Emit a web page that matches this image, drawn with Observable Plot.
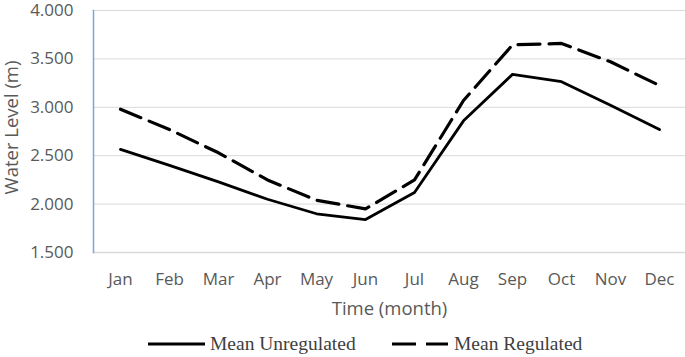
<!DOCTYPE html>
<html><head><meta charset="utf-8">
<script src="https://cdn.jsdelivr.net/npm/d3@7"></script>
<script src="https://cdn.jsdelivr.net/npm/@observablehq/plot@0.6"></script>
<style>
body{margin:0;background:#fff;width:685px;height:357px;overflow:hidden}
#legend{position:relative;height:35px;font-family:"Liberation Serif","Times New Roman",serif;font-size:19.5px;color:#404040}
.item{position:absolute;top:12px;height:20px;display:flex;align-items:center;white-space:nowrap}
</style></head><body>
<div id="chart"></div>
<div id="legend">
  <div class="item" style="left:148px"><svg width="62" height="20"><line x1="0" x2="57" y1="10" y2="10" stroke="#000" stroke-width="2.8"/></svg><span>Mean Unregulated</span></div>
  <div class="item" style="left:392px"><svg width="62" height="20"><line x1="0" x2="56" y1="10" y2="10" stroke="#000" stroke-width="3.2" stroke-dasharray="24,10"/></svg><span>Mean Regulated</span></div>
</div>
<script>
const months = ["Jan","Feb","Mar","Apr","May","Jun","Jul","Aug","Sep","Oct","Nov","Dec"];
const unregulated = [2.565, 2.400, 2.230, 2.050, 1.900, 1.840, 2.120, 2.860, 3.340, 3.265, 3.020, 2.770];
const regulated = [2.980, 2.770, 2.530, 2.250, 2.040, 1.950, 2.250, 3.070, 3.645, 3.660, 3.470, 3.225];
const yTicks = [1.5, 2.0, 2.5, 3.0, 3.5, 4.0];
const fmt = d3.format(".3f");

const rows = [];
months.forEach((m, i) => {
  rows.push({month: m, value: unregulated[i], series: "Mean Unregulated"});
  rows.push({month: m, value: regulated[i], series: "Mean Regulated"});
});

const chart = Plot.plot({
  width: 685, height: 322,
  marginTop: 10, marginBottom: 70, marginLeft: 93, marginRight: 0,
  style: {fontFamily: "'Open Sans', sans-serif", fontSize: "17px", color: "#595959", background: "#fff", overflow: "visible"},
  x: {type: "point", domain: months, padding: 0.5},
  y: {domain: [1.5, 4.0]},
  marks: [
    Plot.gridY(yTicks, {stroke: "#d9d9d9", strokeOpacity: 1, strokeWidth: 1}),
    Plot.ruleY([1.5], {stroke: "#d9d9d9", strokeWidth: 1.5}),
    Plot.axisY({ticks: yTicks, tickFormat: fmt, tickSize: 0, tickPadding: 20, label: null, fontSize: 17}),
    Plot.axisX({tickSize: 0, tickPadding: 20, label: null, fontSize: 17}),
    Plot.text(["Water Level (m)"], {frameAnchor: "left", textAnchor: "middle", lineAnchor: "middle", dx: -81, dy: -4, rotate: -90, fontSize: 18.5, fill: "#595959"}),
    Plot.text(["Time (month)"], {frameAnchor: "bottom", textAnchor: "middle", lineAnchor: "middle", dy: 57, fontSize: 18.5, fill: "#595959"}),
    Plot.lineY(rows.filter(d => d.series === "Mean Unregulated"), {x: "month", y: "value", stroke: "#000", strokeWidth: 2.8}),
    Plot.lineY(rows.filter(d => d.series === "Mean Regulated"), {x: "month", y: "value", stroke: "#000", strokeWidth: 3.2, strokeDasharray: "22,9"}),
    Plot.frame({anchor: "left", stroke: "#7aa6d8", strokeWidth: 1.5})
  ]
});
document.getElementById("chart").appendChild(chart);
const tickTexts = new Set([...months, ...yTicks.map(fmt)]);
d3.select(chart).selectAll("text").filter(function() { return tickTexts.has(this.textContent); })
  .style("font-size", "17px").attr("font-size", 17);
</script>
</body></html>
